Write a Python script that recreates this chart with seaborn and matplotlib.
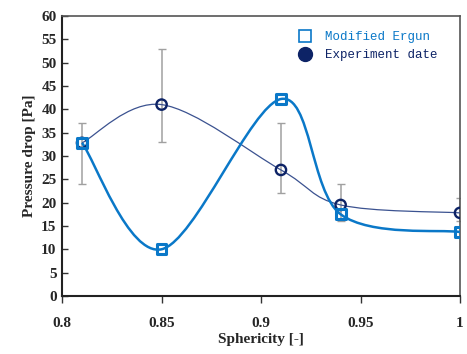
import numpy as np
import seaborn as sns
import matplotlib.pyplot as plt
from matplotlib.path import Path
from matplotlib.patches import PathPatch
from matplotlib.lines import Line2D

# sphericity values and pressure drops
sphericity = [0.81, 0.85, 0.91, 0.94, 1.0]
ergun = [32.8, 10.0, 42.2, 17.5, 13.7]
experiment = [32.8, 41.0, 27.0, 19.5, 17.8]
err_low = [24.0, 33.0, 22.0, 16.0, 16.0]
err_high = [37.0, 53.0, 37.0, 24.0, 21.0]

x_ticks = [0.8, 0.85, 0.9, 0.95, 1.0]
x_tick_labels = ["0.8", "0.85", "0.9", "0.95", "1"]
y_ticks = list(range(0, 61, 5))

BLUE = "#0a78c8"
NAVY = "#0d2366"
LINE_NAVY = "#3b5290"

sns.set_style("white")
plt.rcParams["font.family"] = ["Liberation Serif", "DejaVu Serif"]


def smooth_path(xs, ys):
    # excel style smoothed line: catmull-rom segments as cubic beziers
    pts = np.column_stack([xs, ys]).astype(float)
    verts = [pts[0]]
    codes = [Path.MOVETO]
    n = len(pts)
    for i in range(n - 1):
        p0 = pts[max(i - 1, 0)]
        p1 = pts[i]
        p2 = pts[i + 1]
        p3 = pts[min(i + 2, n - 1)]
        verts += [p1 + (p2 - p0) / 6, p2 - (p3 - p1) / 6, p2]
        codes += [Path.CURVE4] * 3
    return Path(verts, codes)


fig = plt.figure(figsize=(4.67, 3.54), dpi=100)
ax = fig.add_axes([0.133, 0.164, 0.852, 0.791])

# error bars of the experiment
yerr = [np.array(experiment) - np.array(err_low), np.array(err_high) - np.array(experiment)]
ax.errorbar(sphericity, experiment, yerr=yerr, fmt="none", ecolor="#a0a0a0",
            elinewidth=1.1, capsize=3, capthick=1.0, zorder=2)

ax.add_patch(PathPatch(smooth_path(sphericity, experiment), facecolor="none",
                       edgecolor=LINE_NAVY, lw=0.9, zorder=3))
ax.add_patch(PathPatch(smooth_path(sphericity, ergun), facecolor="none",
                       edgecolor=BLUE, lw=1.8, zorder=3))

sns.scatterplot(x=sphericity, y=experiment, ax=ax, marker="o", s=55,
                facecolor="none", edgecolor=NAVY, linewidth=1.7, zorder=4)
sns.scatterplot(x=sphericity, y=ergun, ax=ax, marker="s", s=50,
                facecolor="none", edgecolor=BLUE, linewidth=2.2, zorder=5)

ax.set_xlim(0.8, 1.0)
ax.set_ylim(0, 60)
ax.set_xticks(x_ticks)
ax.set_xticklabels(x_tick_labels)
ax.set_yticks(y_ticks)
for lab in ax.get_xticklabels() + ax.get_yticklabels():
    lab.set_fontweight("bold")
    lab.set_fontsize(11)
ax.tick_params(axis="x", direction="out", length=5, width=1, color="#333333", pad=10)
ax.tick_params(axis="y", direction="in", length=4, width=1, color="#333333", pad=4)
ax.tick_params(left=True, bottom=True)

for side in ["left", "bottom"]:
    ax.spines[side].set_color("#222222")
    ax.spines[side].set_linewidth(1.5)
for side in ["top", "right"]:
    ax.spines[side].set_color("#555555")
    ax.spines[side].set_linewidth(1.2)

ax.set_xlabel("Sphericity [-]", fontsize=11, fontweight="bold", labelpad=2)
ax.set_ylabel("Pressure drop [Pa]", fontsize=11, fontweight="bold", labelpad=4)

handles = [
    Line2D([], [], marker="s", ls="none", markersize=9, markerfacecolor="none",
           markeredgecolor=BLUE, markeredgewidth=1.2),
    Line2D([], [], marker="o", ls="none", markersize=10, markerfacecolor=NAVY,
           markeredgecolor=NAVY),
]
leg = ax.legend(handles, ["Modified Ergun", "Experiment date"], loc="upper right",
                bbox_to_anchor=(0.972, 0.985), frameon=False, handletextpad=0.6,
                labelspacing=0.45, prop={"family": "Liberation Mono", "size": 9})
for txt, col in zip(leg.get_texts(), [BLUE, NAVY]):
    txt.set_color(col)

fig.savefig("out.png", dpi=100)
